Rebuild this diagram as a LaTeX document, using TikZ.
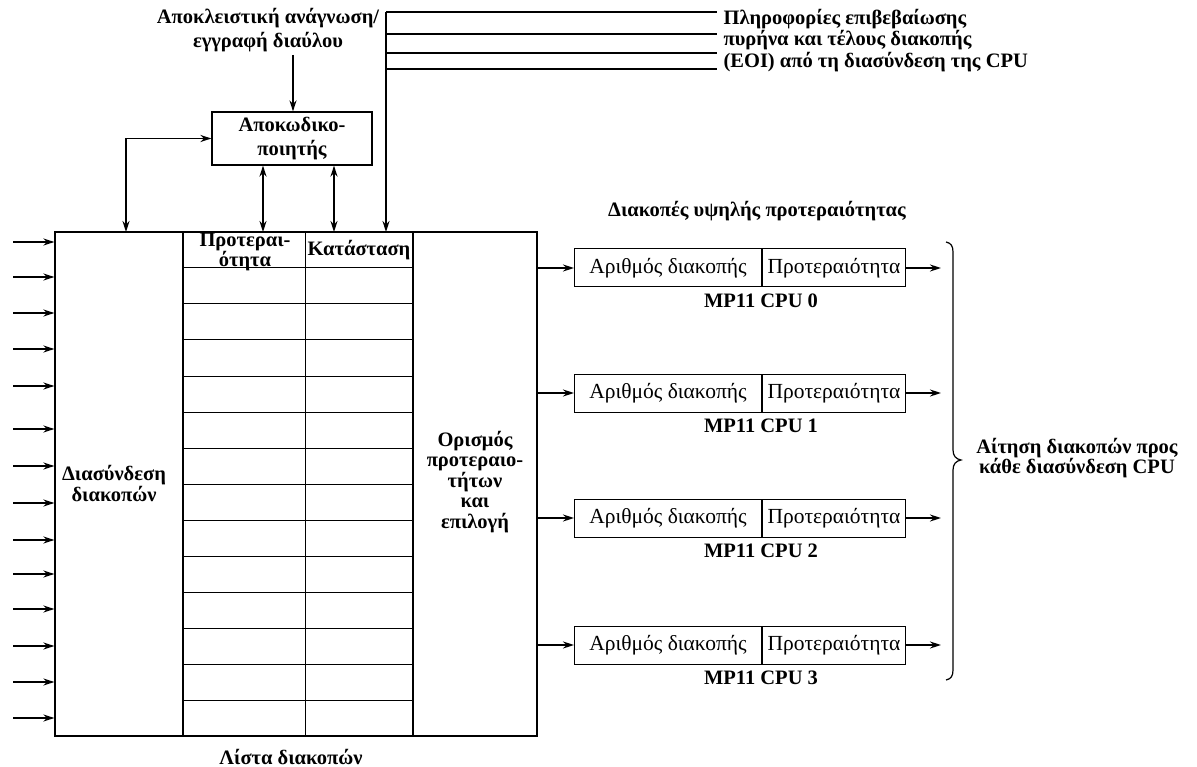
\documentclass[tikz,border=0pt]{standalone}
\usepackage{fontspec}
\setmainfont{Liberation Serif}
\usetikzlibrary{arrows.meta,calc}
\begin{document}
\begin{tikzpicture}[x=1pt,y=-1pt,line width=1.1pt,
  box/.style={draw,inner sep=0pt,line width=1.2pt},
  lbl/.style={font=\bfseries\fontsize{20.5}{21}\selectfont,align=center,inner sep=0pt},
  cell/.style={draw,inner sep=0pt,minimum height=38pt,line width=1pt,font=\fontsize{21.5}{22}\selectfont},
  arr/.style={-{Stealth[length=11pt,width=7pt]},line width=1.6pt},
  darr/.style={{Stealth[length=11pt,width=7pt]}-{Stealth[length=11pt,width=7pt]},line width=1.6pt}]
\useasboundingbox (0,0) rectangle (1197,767);

% three blocks of the distributor
\node[box,minimum width=128pt,minimum height=504pt] (intf) at (119,484) {};
\node[box,minimum width=230pt,minimum height=504pt] (list) at (298,484) {};
\node[box,minimum width=124pt,minimum height=504pt] (sel) at (475,484) {};
\node[lbl] (intftxt) at (114,483.5) {Διασύνδεση\\διακοπών};
\node[lbl,font=\bfseries\fontsize{20.5}{20.5}\selectfont] (seltxt) at (475,482) {Ορισμός\\προτεραιο-\\τήτων\\και\\επιλογή};

% interrupt list table
\draw[line width=1pt] (305,232) -- (305,736);
\foreach \i in {0,...,12}
  \draw[line width=1pt] (183,268+36*\i) -- (413,268+36*\i);
\node[lbl,font=\bfseries\fontsize{20.5}{16}\selectfont] (hprio) at (245,252) {Προτεραι-\\ότητα};
\node[lbl] (hstate) at (359,250) {Κατάσταση};
\node[lbl] (listtxt) at (291,757) {Λίστα διακοπών};

% interrupt inputs
\foreach \y [count=\k] in {242,277,313,349,386,429,466,503,540,574,609,646,682,718} {
  \coordinate (in\k) at (13,\y);
  \draw[arr] (in\k) -- (in\k -| intf.west);
}

% decoder and bus access
\node[box,minimum width=160pt,minimum height=53pt,lbl,font=\bfseries\fontsize{20.5}{24}\selectfont] (dec) at (292,138.5) {Αποκωδικο-\\ποιητής};
\node[lbl,font=\bfseries\fontsize{20.5}{24}\selectfont] (bus) at (268,30) {Αποκλειστική ανάγνωση/\\εγγραφή διαύλου};
\coordinate (busend) at (293,55);
\draw[arr] (busend) -- (busend |- dec.north);
\coordinate (dl) at (126,232);
\draw[darr] (dl) |- (dec.west);
\coordinate (pa) at (263,232);
\coordinate (sa) at (334,232);
\draw[darr] (pa |- dec.south) -- (pa);
\draw[darr] (sa |- dec.south) -- (sa);

% acknowledge / EOI lines from the CPU interface
\coordinate (eoi) at (386,232);
\coordinate (eoitop) at (386,12);
\draw[arr] (eoitop) -- (eoi);
\foreach \y in {12,34,53,69}
  \draw[line width=1.4pt] (386,\y) -- (717,\y);
\node[lbl,align=left,anchor=west,font=\bfseries\fontsize{20.5}{21.5}\selectfont] (eoitxt) at (723,40.5)
  {Πληροφορίες επιβεβαίωσης\\πυρήνα και τέλους διακοπής\\(EOI) από τη διασύνδεση της CPU};

% per-CPU highest priority interrupts
\node[lbl] (hp) at (757,211) {Διακοπές υψηλής προτεραιότητας};
\foreach \i/\y in {0/268,1/393,2/518,3/645} {
  \node[cell,minimum width=187pt,anchor=west] (num\i) at (574,\y) {Αριθμός διακοπής};
  \node[cell,minimum width=143pt,anchor=west] (pri\i) at (num\i.east) {Προτεραιότητα};
  \node[lbl] (cpu\i) at (761,\y+33) {MP11 CPU \i};
  \draw[arr] (sel.east |- num\i.west) -- (num\i.west);
  \coordinate (out\i) at (941,\y);
  \draw[arr] (pri\i.east) -- (out\i);
}

% brace grouping the CPU requests
\draw[line width=1.2pt] (946,242) .. controls (951,243) and (953,246) .. (953,252)
  -- (953,450) .. controls (953,456) and (956,459) .. (961,460)
  .. controls (956,461) and (953,464) .. (953,470)
  -- (953,670) .. controls (953,676) and (951,679) .. (946,680);
\node[lbl,font=\bfseries\fontsize{20.5}{19}\selectfont] (req) at (1077,458) {Αίτηση διακοπών προς\\κάθε διασύνδεση CPU};
\end{tikzpicture}
\end{document}
